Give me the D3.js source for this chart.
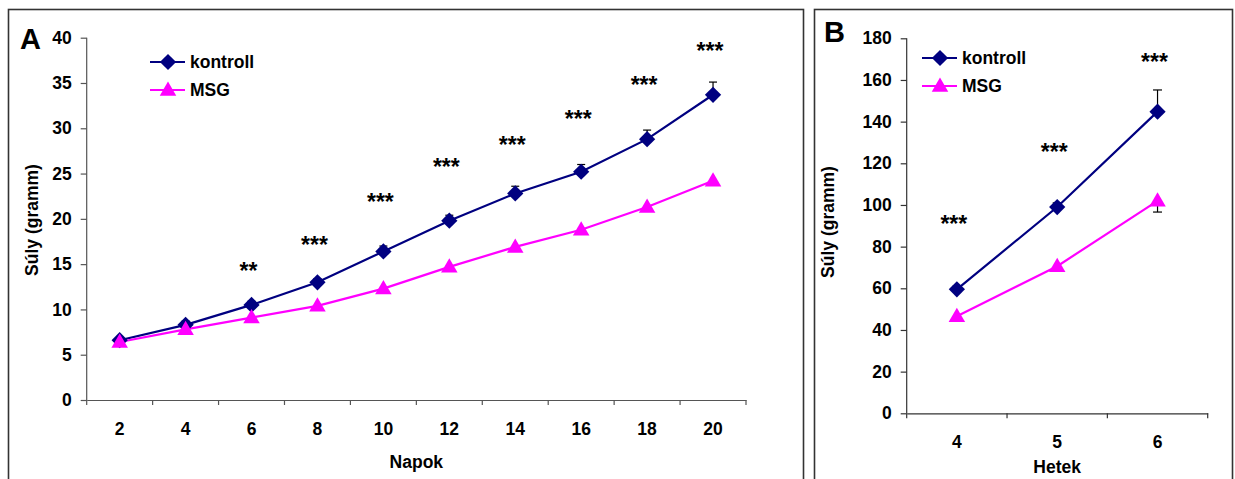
<!DOCTYPE html>
<html><head><meta charset="utf-8">
<script src="https://cdn.jsdelivr.net/npm/d3@7/dist/d3.min.js"></script>
<style>body{margin:0;background:#fff}svg{display:block}text{font-family:"Liberation Sans",Arial,sans-serif;font-weight:bold}</style>
</head><body><svg id="c" width="1235" height="479"></svg>
<script>
// Panel A data
const daysA = ["2","4","6","8","10","12","14","16","18","20"];
const kontrollA = [6.6, 8.3, 10.5, 13.0, 16.4, 19.8, 22.8, 25.2, 28.8, 33.7];
const kontrollErrA = [0.3, 0.4, 0.4, 0.4, 0.6, 0.6, 0.8, 0.8, 1.0, 1.4];
const msgA = [6.4, 7.8, 9.1, 10.4, 12.3, 14.7, 16.9, 18.8, 21.3, 24.2];
const msgErrA = [0.2, 0.2, 0.3, 0.3, 0.3, 0.3, 0.4, 0.4, 0.4, 0.5];
const starsA = ["", "", "**", "***", "***", "***", "***", "***", "***", "***"];
const starYA = [0, 0, 14.8, 17.7, 22.4, 26.3, 28.7, 31.6, 35.3, 39.1];
const yTicksA = [0, 5, 10, 15, 20, 25, 30, 35, 40];
// Panel B data
const weeksB = ["4", "5", "6"];
const kontrollB = [59.5, 99.0, 144.8];
const kontrollErrB = [1.5, 2.0, 10.4];
const msgB = [46.6, 70.6, 102.0];
const msgErrB = [1.0, 1.5, 5.4];
const starsB = ["***", "***", "***"];
const starYB = [93.3, 128, 171.2];
const yTicksB = [0, 20, 40, 60, 80, 100, 120, 140, 160, 180];
const seriesNames = ["kontroll", "MSG"];

const NAVY = "#000080", MAG = "#FF00FF";
const FS = 17.5;
const svg = d3.select("#c");

function panel(o) {
  const g = svg.append("g");
  g.append("rect").attr("x", o.frame[0]).attr("y", o.frame[1]).attr("width", o.frame[2]).attr("height", o.frame[3])
    .attr("fill", "none").attr("stroke", "#333").attr("stroke-width", 1.6);
  const x = d3.scaleBand().domain(o.cats).range(o.xr).padding(0);
  const y = d3.scaleLinear().domain(o.yd).range(o.yr);
  const cx = d => x(d) + x.bandwidth() / 2;
  // y axis
  const ya = g.append("g").attr("transform", `translate(${o.xr[0]},0)`)
    .call(d3.axisLeft(y).tickValues(o.yticks).tickSize(6).tickPadding(9));
  ya.selectAll("path,line").attr("stroke", o.axisColor).attr("stroke-width", 1.2);
  ya.select(".domain").attr("d", `M0,${o.yr[0]}V${o.yr[1]}`);
  ya.selectAll("text").attr("font-size", FS).attr("font-family", "Liberation Sans, Arial").attr("font-weight", "bold").attr("fill", "#000");
  // x axis
  const xa = g.append("g").attr("transform", `translate(0,${o.yr[0]})`)
    .call(d3.axisBottom(x).tickSize(0).tickPadding(o.xpad));
  xa.select(".domain").attr("stroke", o.axisColor).attr("stroke-width", 1.2);
  xa.selectAll("text").attr("font-size", FS).attr("font-family", "Liberation Sans, Arial").attr("font-weight", "bold").attr("fill", "#000");
  const edges = o.cats.map(d => x(d)).concat([o.xr[1]]);
  xa.selectAll(".edge").data(edges).enter().append("line")
    .attr("x1", d => d).attr("x2", d => d).attr("y1", 0).attr("y2", 5)
    .attr("stroke", o.axisColor).attr("stroke-width", 1.2);
  // titles
  g.append("text").attr("x", (o.xr[0] + o.xr[1]) / 2).attr("y", o.xtitleY).attr("text-anchor", "middle")
    .attr("font-size", FS).text(o.xtitle);
  g.append("text").attr("transform", `translate(${o.ytitleX},${o.ytitleCY}) rotate(-90)`).attr("text-anchor", "middle")
    .attr("font-size", FS).text("Súly (gramm)");
  g.append("text").attr("x", o.letter[0]).attr("y", o.letter[1]).attr("font-size", 29).text(o.letterText);
  // error bars
  function err(vals, errs, up) {
    const eg = g.append("g").attr("stroke", "#000").attr("stroke-width", 1.2);
    o.cats.forEach((c, i) => {
      const v2 = up ? vals[i] + errs[i] : vals[i] - errs[i];
      eg.append("line").attr("x1", cx(c)).attr("x2", cx(c)).attr("y1", y(vals[i])).attr("y2", y(v2));
      eg.append("line").attr("x1", cx(c) - o.cap).attr("x2", cx(c) + o.cap).attr("y1", y(v2)).attr("y2", y(v2));
    });
  }
  err(o.k, o.ke, true);
  err(o.m, o.me, false);
  // lines
  const line = d3.line().x((d, i) => cx(o.cats[i])).y(d => y(d));
  g.append("path").datum(o.k).attr("d", line).attr("fill", "none").attr("stroke", NAVY).attr("stroke-width", 2.2);
  g.append("path").datum(o.m).attr("d", line).attr("fill", "none").attr("stroke", MAG).attr("stroke-width", 2.2);
  const dia = d3.symbol().type(d3.symbolSquare).size(132);
  const tri = d3.symbol().type(d3.symbolTriangle).size(118);
  g.selectAll(".dk").data(o.k).enter().append("path")
    .attr("d", dia).attr("fill", NAVY)
    .attr("transform", (d, i) => `translate(${cx(o.cats[i])},${y(d)}) rotate(45)`);
  g.selectAll(".tm").data(o.m).enter().append("path")
    .attr("d", tri).attr("fill", MAG)
    .attr("transform", (d, i) => `translate(${cx(o.cats[i])},${y(d) + 1})`);
  // stars
  g.selectAll(".st").data(o.stars).enter().append("text")
    .attr("x", (d, i) => cx(o.cats[i]) - 3).attr("y", (d, i) => y(o.starY[i]) + 13)
    .attr("text-anchor", "middle").attr("font-size", 23).text(d => d);
  // legend
  const lg = g.append("g");
  [NAVY, MAG].forEach((col, i) => {
    const ly = o.leg[1] + i * 28;
    lg.append("line").attr("x1", o.leg[0]).attr("x2", o.leg[0] + 35).attr("y1", ly).attr("y2", ly).attr("stroke", col).attr("stroke-width", 2.2);
    lg.append("path").attr("d", i === 0 ? dia : tri).attr("fill", col)
      .attr("transform", `translate(${o.leg[0] + 18},${ly + (i ? 1 : 0)})` + (i === 0 ? " rotate(45)" : ""));
    lg.append("text").attr("x", o.leg[0] + 40).attr("y", ly + 6).attr("font-size", FS).text(seriesNames[i]);
  });
}

panel({
  frame: [8.5, 9.5, 795, 520], cats: daysA, xr: [86.7, 746], yd: [0, 40], yr: [400, 37.7],
  yticks: yTicksA, axisColor: "#555", xpad: 23, xtitle: "Napok", xtitleY: 468, ytitleX: 38, ytitleCY: 220,
  letter: [20, 49], letterText: "A", k: kontrollA, ke: kontrollErrA, m: msgA, me: msgErrA,
  stars: starsA, starY: starYA, cap: 4, leg: [150, 62]
});
panel({
  frame: [814.5, 9.5, 418, 520], cats: weeksB, xr: [906.7, 1207.7], yd: [0, 180], yr: [413.3, 38.3],
  yticks: yTicksB, axisColor: "#333", xpad: 22, xtitle: "Hetek", xtitleY: 473, ytitleX: 834, ytitleCY: 222,
  letter: [824, 42], letterText: "B", k: kontrollB, ke: kontrollErrB, m: msgB, me: msgErrB,
  stars: starsB, starY: starYB, cap: 4.5, leg: [922, 58]
});
</script></body></html>
